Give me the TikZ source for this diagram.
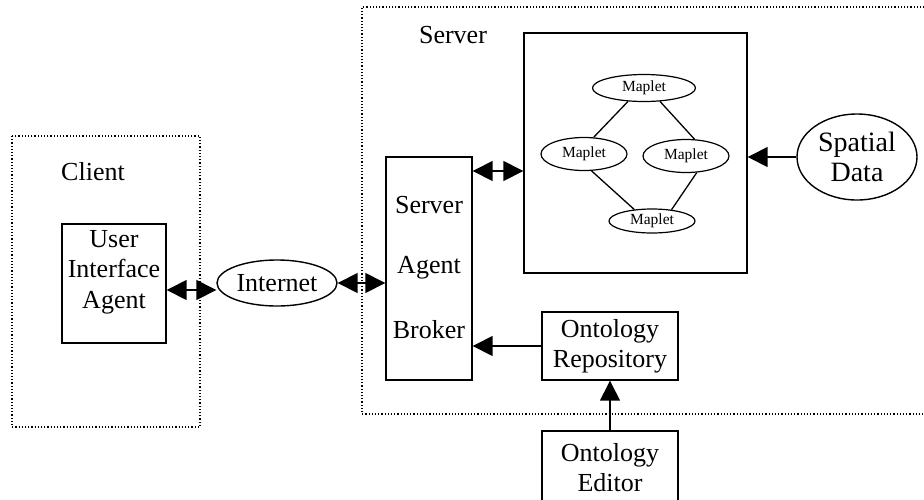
\documentclass[tikz,border=0pt]{standalone}
\usepackage{fontspec}
\setmainfont{Liberation Serif}
\usetikzlibrary{arrows.meta,shapes.geometric}
\begin{document}
\begin{tikzpicture}[x=1pt,y=-1pt,
  every node/.style={inner sep=0pt, font=\fontsize{26}{30}\selectfont},
  group/.style={draw, dotted, line width=1.2pt},
  block/.style={draw, line width=1.4pt, align=center},
  oval/.style={draw, ellipse, line width=1.4pt, align=center},
  maplet/.style={draw, ellipse, line width=1.2pt, font=\fontsize{15.5}{18}\selectfont},
  link/.style={line width=1.3pt},
  tip/.style={-{Triangle[length=20pt,width=20pt]}, line width=1.5pt},
  dtip/.style={{Triangle[length=20pt,width=20pt]}-{Triangle[length=20pt,width=20pt]}, line width=1.5pt}]
  \useasboundingbox (0,0) rectangle (924,499);

  % group frames
  \draw[group] (12,136) rectangle (200,427);
  \draw[group] (934,7) -- (362,7) -- (362,414) -- (934,414);
  \node (clientlbl) at (93,172) {Client};
  \node (serverlbl) at (453,35) {Server};

  % client side
  \node[block, minimum width=104pt, minimum height=119pt] (uia) at (114,283.5) {};
  \node[align=center, font=\fontsize{26}{30.5}\selectfont] (uiatext) at (114,272)
    {User\\Interface\\Agent};
  \node[oval, minimum width=120pt, minimum height=46pt] (net) at (277,283) {Internet};

  % broker
  \node[block, minimum width=86pt, minimum height=223pt] (sab) at (429,268.5) {};
  \node (sab1) at (429,205) {Server};
  \node (sab2) at (429,268) {Agent};
  \node (sab3) at (429,330) {Broker};

  % maplet container
  \node[block, minimum width=223pt, minimum height=240pt] (mbox) at (635.5,153) {};
  \node[maplet, minimum width=103pt, minimum height=27pt] (m1) at (644,88) {Maplet};
  \node[maplet, minimum width=86pt, minimum height=33pt] (m2) at (584,154) {Maplet};
  \node[maplet, minimum width=86pt, minimum height=33pt] (m3) at (686,156) {Maplet};
  \node[maplet, minimum width=86pt, minimum height=24pt] (m4) at (652,221) {Maplet};
  \draw[link] (m1.220) -- (m2.60);
  \draw[link] (m1.-40) -- (m3.63);
  \draw[link] (m2.-66) -- (m4.147);
  \draw[link] (m3.-57) -- (m4.30);

  \node[oval, minimum width=120pt, minimum height=86pt, font=\fontsize{28}{30}\selectfont]
    (sd) at (857,157) {Spatial\\Data};

  % ontology
  \node[block, minimum width=136pt, minimum height=68pt] (orep) at (610,346)
    {Ontology\\Repository};
  \node[block, minimum width=136pt, minimum height=74pt] (oed) at (610,468)
    {Ontology\\Editor};

  % connectors
  \draw[dtip] (uia.east |- 0,290) -- (net.west |- 0,290);
  \draw[dtip] (net.east) -- (sab.west |- net.east);
  \draw[dtip] (sab.east |- 0,171) -- (mbox.west |- 0,171);
  \draw[tip] (sd.west) -- (mbox.east |- sd.west);
  \draw[tip] (orep.west) -- (sab.east |- orep.west);
  \draw[tip] (oed.north) -- (orep.south);
\end{tikzpicture}
\end{document}
